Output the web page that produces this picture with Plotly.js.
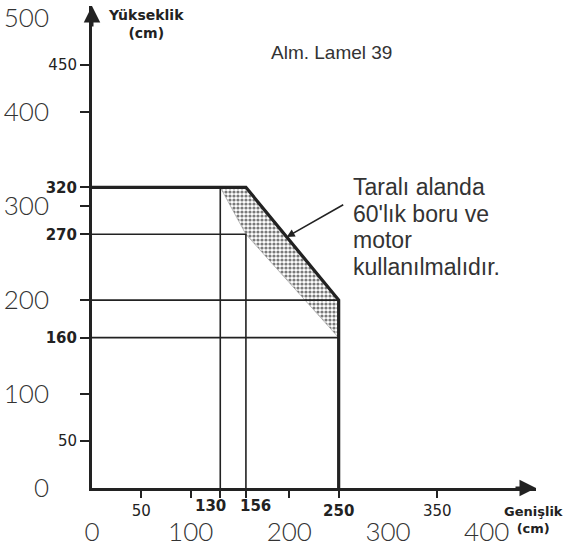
<!DOCTYPE html>
<html>
<head>
<meta charset="utf-8">
<script src="https://cdn.plot.ly/plotly-3.0.1.min.js"></script>
<style>html,body{margin:0;padding:0;background:#fff;}#chart{width:574px;height:547px;}</style>
</head>
<body>
<div id="chart"></div>
<script>
// ---- data (cm) ----
const envelopeWidth  = [0, 156, 250, 250];
const envelopeHeight = [320, 320, 200, 0];
const hatchWidth  = [130, 156, 250, 250, 156, 130];
const hatchHeight = [320, 320, 200, 160, 270, 320];
const guideWidth  = [[0, 156, 156], [0, 250], [0, 250], [130, 130]];
const guideHeight = [[270, 270, 0], [200, 200], [160, 160], [320, 0]];

const xSmallTicks = [50, 100, 130, 156, 200, 250, 350];
const xSmallText  = ['50', '', '', '', '', '<b>250</b>', '350'];
const xCloseTicks = [130, 156];          // labelled separately, spread apart
const xBigTicks   = [0, 100, 200, 300, 400];
const ySmallTicks = [50, 100, 160, 200, 270, 300, 320, 400, 450];
const ySmallText  = ['50', '', '<b>160</b>', '', '<b>270</b>', '', '<b>320</b>', '', '450'];
const yBigTicks   = [0, 100, 200, 300, 400, 500];

const chartTitle = 'Alm. Lamel 39';
const noteText = ['Taralı alanda', "60'lık boru ve", 'motor', 'kullanılmalıdır.'];
const xTitle = 'Genişlik<br>(cm)';
const yTitle = 'Yükseklik<br>(cm)';

const X_MAX = 450, Y_MAX = 513;
const ink = '#222';
const M = {l: 92, r: 38, t: 6, b: 59};
const PW = 574 - M.l - M.r, PH = 547 - M.t - M.b;
const px2paperX = p => (p - M.l) / PW;
const px2paperY = p => (547 - M.b - p) / PH;

// guide segments joined with gaps
const gx = [], gy = [];
guideWidth.forEach((w, i) => { gx.push(...w, null); gy.push(...guideHeight[i], null); });

// arrow target: a point on the sloped envelope edge
const t = 0.44;
const arrowX = envelopeWidth[1] + t * (envelopeWidth[2] - envelopeWidth[1]);
const arrowY = envelopeHeight[1] + t * (envelopeHeight[2] - envelopeHeight[1]);

const traces = [
  {x: hatchWidth, y: hatchHeight, type: 'scatter', mode: 'lines', fill: 'toself',
   fillcolor: 'rgba(0,0,0,0)',
   fillpattern: {shape: '.', fgcolor: '#7a7a7a', bgcolor: '#fff', size: 4, solidity: 0.5},
   line: {width: 0.6, color: '#999'}, hoverinfo: 'skip', xaxis: 'x', yaxis: 'y'},
  {x: gx, y: gy, type: 'scatter', mode: 'lines', line: {color: ink, width: 1.6},
   connectgaps: false, hoverinfo: 'skip', xaxis: 'x2', yaxis: 'y2', cliponaxis: false},
  {x: envelopeWidth, y: envelopeHeight, type: 'scatter', mode: 'lines',
   line: {color: ink, width: 3.2}, hoverinfo: 'skip', xaxis: 'x2', yaxis: 'y2', cliponaxis: false}
];

const smallFont = {family: 'DejaVu Sans, sans-serif', size: 15, color: ink};
const bigFont = {family: 'Lato, sans-serif', size: 26, color: '#333', weight: 300};
const noteFont = {family: 'Liberation Sans, Arial, sans-serif', size: 23, color: '#333'};
const titleFont = {family: 'DejaVu Sans, sans-serif', size: 13, color: ink, weight: 'bold'};

const annotations = [
  {x: 0, y: Y_MAX, xref: 'x', yref: 'y', ax: 0, ay: 22, text: '', showarrow: true,
   arrowhead: 2, arrowsize: 1.1, arrowwidth: 3, arrowcolor: ink},
  {x: X_MAX, y: 0, xref: 'x', yref: 'y', ax: -22, ay: 0, text: '', showarrow: true,
   arrowhead: 2, arrowsize: 1.1, arrowwidth: 3, arrowcolor: ink},
  {x: arrowX, y: arrowY, xref: 'x', yref: 'y', ax: 58, ay: -33, text: '', showarrow: true,
   arrowhead: 2, arrowsize: 1, arrowwidth: 1.6, arrowcolor: ink},
  {text: yTitle, showarrow: false, xref: 'paper', yref: 'paper', xanchor: 'center', yanchor: 'middle',
   x: px2paperX(146), y: px2paperY(24), font: Object.assign({}, titleFont, {size: 14})},
  {text: xTitle, showarrow: false, xref: 'paper', yref: 'paper', xanchor: 'center', yanchor: 'middle',
   x: px2paperX(533), y: px2paperY(520), font: titleFont},
  {text: chartTitle, showarrow: false, xref: 'paper', yref: 'paper', xanchor: 'center', yanchor: 'middle',
   x: px2paperX(331), y: px2paperY(52),
   font: {family: 'Liberation Sans, Arial, sans-serif', size: 19, color: '#333'}}
];
noteText.forEach((line, i) => annotations.push({
  text: line, showarrow: false, xref: 'paper', yref: 'paper', xanchor: 'left', yanchor: 'middle',
  x: px2paperX(351), y: px2paperY(187 + i * 26.5), font: noteFont}));
xCloseTicks.forEach((v, i) => annotations.push({
  text: '<b>' + v + '</b>', x: v, y: 0, xref: 'x', yref: 'y', showarrow: false, borderpad: 0,
  xanchor: 'center', yanchor: 'top', yshift: -8, xshift: i === 0 ? -10 : 10, font: smallFont}));

const layout = {
  width: 574, height: 547,
  margin: M,
  paper_bgcolor: '#fff', plot_bgcolor: '#fff',
  showlegend: false,
  xaxis: {range: [0, X_MAX], showgrid: false, zeroline: false, showline: true,
          linecolor: ink, linewidth: 3, ticks: 'outside', ticklen: 7, tickwidth: 2, tickcolor: ink,
          tickvals: xSmallTicks, ticktext: xSmallText, tickfont: smallFont, tickangle: 0, fixedrange: true},
  yaxis: {range: [0, Y_MAX], showgrid: false, zeroline: false, showline: true,
          linecolor: ink, linewidth: 3, ticks: 'outside', ticklen: 9, tickwidth: 2, tickcolor: ink,
          tickvals: ySmallTicks, ticktext: ySmallText, tickfont: smallFont, fixedrange: true},
  xaxis2: {range: [0, X_MAX], overlaying: 'x', side: 'bottom', anchor: 'y2', showgrid: false,
           zeroline: false, showline: false, ticks: '', tickvals: xBigTicks, tickangle: 0,
           ticktext: xBigTicks.map(String), tickfont: bigFont, ticklabelstandoff: 26,
           ticklabeloverflow: 'allow', fixedrange: true},
  yaxis2: {range: [0, Y_MAX], overlaying: 'y', side: 'left', anchor: 'x2', showgrid: false,
           zeroline: false, showline: false, ticks: '', tickvals: yBigTicks,
           ticktext: yBigTicks.map(String), tickfont: bigFont, ticklabelstandoff: 42,
           ticklabeloverflow: 'allow', fixedrange: true},
  annotations: annotations
};

Plotly.newPlot('chart', traces, layout, {displayModeBar: false, staticPlot: true});
</script>
</body>
</html>
